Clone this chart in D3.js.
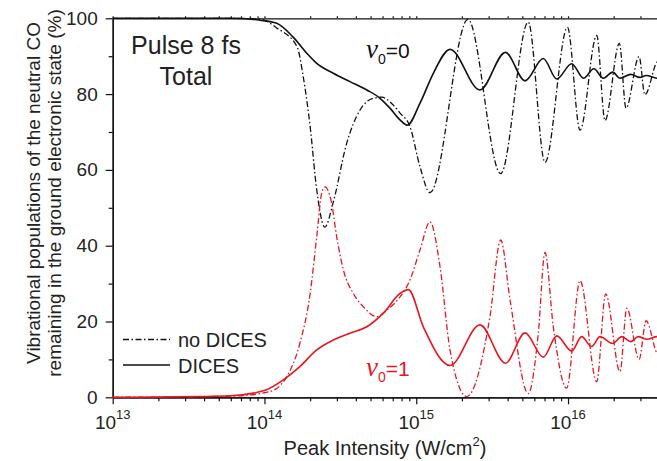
<!DOCTYPE html>
<html>
<head>
<meta charset="utf-8">
<script src="https://cdn.jsdelivr.net/npm/d3@7"></script>
<style>
  body { margin: 0; background: #fff; }
  svg { font-family: "Liberation Sans", Arial, sans-serif; }
</style>
</head>
<body>
<div id="main"></div>
<script>
// peak intensity (W/cm^2) and population (%)

// v0 = 0, no DICES (dash-dot, black)
const noDicesV0 = [
  [1e13, 100], [5e13, 100], [9.3e13, 99.8], [1.21e14, 97.4], [1.64e14, 92.5],
  [1.8e14, 84.6], [2.0e14, 71.4], [2.21e14, 54.7], [2.5e14, 44.9], [2.84e14, 51.5],
  [3.48e14, 67], [4.26e14, 75.8], [5.21e14, 78.9], [5.92e14, 79.2], [7.06e14, 77.1],
  [7.82e14, 75], [9.1e14, 71.4], [1.059e15, 60.8], [1.232e15, 54], [2.19e15, 99.7],
  [3.6e15, 59], [5.47e15, 99], [7.05e15, 62], [9.92e15, 97.6], [1.2e16, 70.5],
  [1.545e16, 95.5], [1.753e16, 73], [2.18e16, 93.4], [2.41e16, 76.3], [2.94e16, 89.9],
  [3.21e16, 79.8], [3.86e16, 88.5], [4e16, 89]
];

// v0 = 0, DICES (solid, black)
const dicesV0 = [
  [1e13, 100], [6e13, 100], [9.34e13, 99.5], [1.204e14, 98.7], [1.54e14, 95.1],
  [1.9e14, 90.8], [2.21e14, 88.1], [2.84e14, 85.5], [3.66e14, 83.3], [4.72e14, 81.1],
  [5.77e14, 78.9], [6.71e14, 76.3], [7.82e14, 73.2], [8.73e14, 71.8], [1.059e15, 77.6],
  [1.296e15, 85.5], [1.669e15, 91.8], [2.63e15, 81.1], [3.87e15, 91], [5.21e15, 83.5],
  [6.87e15, 89.4], [8.43e15, 84], [1.057e16, 88], [1.265e16, 84.2], [1.48e16, 86.7],
  [1.708e16, 84.2], [1.97e16, 85.8], [2.2e16, 84.2], [2.59e16, 85.2], [2.98e16, 84.4],
  [3.27e16, 84.9], [3.86e16, 84.2], [4e16, 84.3]
];

// v0 = 1, no DICES (dash-dot, red)
const noDicesV1 = [
  [1e13, 0], [6e13, 0.3], [1e14, 1.2], [1.21e14, 2.4], [1.4e14, 5.4], [1.71e14, 14.2],
  [2.0e14, 27.4], [2.21e14, 42.4], [2.38e14, 53.8], [2.5e14, 55.5], [2.77e14, 51.2],
  [2.99e14, 42.4], [3.31e14, 33.6], [3.85e14, 27.4], [4.48e14, 23.9], [5.49e14, 21.3],
  [6.39e14, 23], [7.82e14, 26.5], [9.1e14, 31], [1.059e15, 38.9], [1.232e15, 46.3],
  [1.434e15, 34.5], [1.669e15, 12.5], [2.15e15, 0.2], [3.06e15, 21.3], [3.6e15, 41.5],
  [4.15e15, 25.7], [5.47e15, 1], [6.37e15, 16.9], [7.05e15, 38.2], [8.0e15, 18.6],
  [9.8e15, 2.4], [1.2e16, 30.8], [1.545e16, 4.1], [1.77e16, 27.3], [2.2e16, 6.8],
  [2.44e16, 23.5], [2.94e16, 10], [3.27e16, 20.2], [3.86e16, 11.6], [4e16, 11]
];

// v0 = 1, DICES (solid, red)
const dicesV1 = [
  [1e13, 0], [3.76e13, 0.2], [6e13, 0.4], [8.44e13, 1.1], [1.02e14, 1.9], [1.33e14, 4.6],
  [1.71e14, 8.1], [2.21e14, 12.5], [2.84e14, 15.1], [3.66e14, 16.9], [4.72e14, 18.6],
  [6.07e14, 22.2], [7.82e14, 27.4], [8.87e14, 28.4], [1.113e15, 18.6], [1.67e15, 8.4],
  [2.63e15, 19.1], [3.87e15, 9], [5.21e15, 17], [6.87e15, 10.6], [8.43e15, 16.2],
  [1.057e16, 12.2], [1.23e16, 16], [1.43e16, 13.4], [1.625e16, 16], [1.97e16, 14.2],
  [2.26e16, 16], [2.59e16, 14.7], [2.9e16, 16], [3.3e16, 15.3], [3.86e16, 16], [4e16, 16]
];

const xMajor = [1e13, 1e14, 1e15, 1e16];
const xExponents = ["13", "14", "15", "16"];
const yMajor = [0, 20, 40, 60, 80, 100];
const yMinor = [10, 30, 50, 70, 90];

const red = "#e8161f";
const dashDot = "6,2.5,1.5,2.5";

const width = 657, height = 461;
const margin = {top: 18.3, right: -2.4, bottom: 63.7, left: 112.7};

const svg = d3.select("#main").append("svg")
  .attr("width", width)
  .attr("height", height);

const x = d3.scaleLog()
  .domain([1e13, 4e16])
  .range([margin.left, width - margin.right]);

const y = d3.scaleLinear()
  .domain([0, 100])
  .range([height - margin.bottom, margin.top]);

let xMinor = [];
for (let d = 13; d <= 16; d++) {
  for (let k = 2; k <= 9; k++) {
    let v = k * Math.pow(10, d);
    if (v <= 4e16) xMinor.push(v);
  }
}

// axes
function styleAxis(g) {
  g.select(".domain").attr("stroke", "#111").attr("stroke-width", 1.3);
  g.selectAll(".tick line").attr("stroke", "#111").attr("stroke-width", 1.2);
}

svg.append("g")
  .attr("transform", "translate(0," + y(0) + ")")
  .call(d3.axisBottom(x).tickValues(xMinor).tickSize(4).tickFormat("").tickSizeOuter(0))
  .call(styleAxis);
svg.append("g")
  .attr("transform", "translate(0," + y(0) + ")")
  .call(d3.axisBottom(x).tickValues(xMajor).tickSize(7).tickFormat("").tickSizeOuter(0))
  .call(styleAxis);

svg.append("g")
  .attr("transform", "translate(0," + y(100) + ")")
  .call(d3.axisTop(x).tickValues(xMinor.concat(xMajor)).tickSize(2).tickFormat("").tickSizeOuter(0))
  .call(styleAxis);

svg.append("g")
  .attr("transform", "translate(" + margin.left + ",0)")
  .call(d3.axisLeft(y).tickValues(yMinor).tickSize(4).tickFormat("").tickSizeOuter(0))
  .call(styleAxis);
svg.append("g")
  .attr("transform", "translate(" + margin.left + ",0)")
  .call(d3.axisLeft(y).tickValues(yMajor).tickSize(7).tickPadding(8).tickSizeOuter(0))
  .call(styleAxis)
  .call(g => g.selectAll(".tick text")
    .attr("font-family", "Liberation Sans, Arial, sans-serif")
    .attr("font-size", 19)
    .attr("fill", "#222"));

// x tick labels 10^n
const xl = svg.append("g").selectAll("text")
  .data(xMajor)
  .enter()
  .append("text")
    .attr("x", d => x(d))
    .attr("y", 429)
    .attr("text-anchor", "middle")
    .attr("font-size", 19)
    .attr("fill", "#222");
xl.append("tspan").text("10");
xl.append("tspan")
  .attr("dy", -10)
  .attr("font-size", 13)
  .text((d, i) => xExponents[i]);

// curves
const line = d3.line()
  .x(d => x(d[0]))
  .y(d => y(d[1]))
  .curve(d3.curveMonotoneX);

svg.append("path").datum(noDicesV0)
  .attr("d", line).attr("fill", "none")
  .attr("stroke", "#111").attr("stroke-width", 1.3)
  .attr("stroke-dasharray", dashDot);
svg.append("path").datum(noDicesV1)
  .attr("d", line).attr("fill", "none")
  .attr("stroke", red).attr("stroke-width", 1.3)
  .attr("stroke-dasharray", dashDot);
svg.append("path").datum(dicesV0)
  .attr("d", line).attr("fill", "none")
  .attr("stroke", "#111").attr("stroke-width", 1.6);
svg.append("path").datum(dicesV1)
  .attr("d", line).attr("fill", "none")
  .attr("stroke", red).attr("stroke-width", 1.6);

// legend
svg.append("line")
  .attr("x1", 123).attr("x2", 170).attr("y1", 339.5).attr("y2", 339.5)
  .attr("stroke", "#111").attr("stroke-width", 1.3)
  .attr("stroke-dasharray", dashDot);
svg.append("text")
  .attr("x", 178).attr("y", 347)
  .attr("font-size", 20).attr("fill", "#222")
  .text("no DICES");
svg.append("line")
  .attr("x1", 123).attr("x2", 170).attr("y1", 365).attr("y2", 365)
  .attr("stroke", "#111").attr("stroke-width", 1.6);
svg.append("text")
  .attr("x", 178).attr("y", 373)
  .attr("font-size", 20).attr("fill", "#222")
  .text("DICES");

// annotations
svg.append("text")
  .attr("x", 186).attr("y", 53.5)
  .attr("text-anchor", "middle")
  .attr("font-size", 25).attr("fill", "#222")
  .text("Pulse 8 fs");
svg.append("text")
  .attr("x", 186).attr("y", 85)
  .attr("text-anchor", "middle")
  .attr("font-size", 25).attr("fill", "#222")
  .text("Total");

function stateLabel(yPos, level, color) {
  let t = svg.append("text")
    .attr("x", 366).attr("y", yPos)
    .attr("fill", color);
  t.append("tspan")
    .attr("font-family", "Liberation Serif, Times New Roman, serif")
    .attr("font-style", "italic")
    .attr("font-size", 27)
    .text("ν");
  t.append("tspan")
    .attr("font-size", 14)
    .attr("dy", 6)
    .text("0");
  t.append("tspan")
    .attr("font-size", 21)
    .attr("dy", -6)
    .text("=" + level);
}
stateLabel(57.5, "0", "#111");
stateLabel(375.5, "1", red);

// axis titles
svg.append("text")
  .attr("x", 385).attr("y", 455)
  .attr("text-anchor", "middle")
  .attr("font-size", 20).attr("fill", "#222")
  .call(t => {
    t.append("tspan").text("Peak Intensity (W/cm");
    t.append("tspan").attr("font-size", 13).attr("dy", -9).text("2");
    t.append("tspan").attr("dy", 9).text(")");
  });

svg.append("text")
  .attr("transform", "translate(40,193) rotate(-90)")
  .attr("text-anchor", "middle")
  .attr("font-size", 19).attr("fill", "#222")
  .text("Vibrational populations of the neutral CO");
svg.append("text")
  .attr("transform", "translate(61,193) rotate(-90)")
  .attr("text-anchor", "middle")
  .attr("font-size", 19).attr("fill", "#222")
  .text("remaining in the ground electronic state (%)");
</script>
</body>
</html>
